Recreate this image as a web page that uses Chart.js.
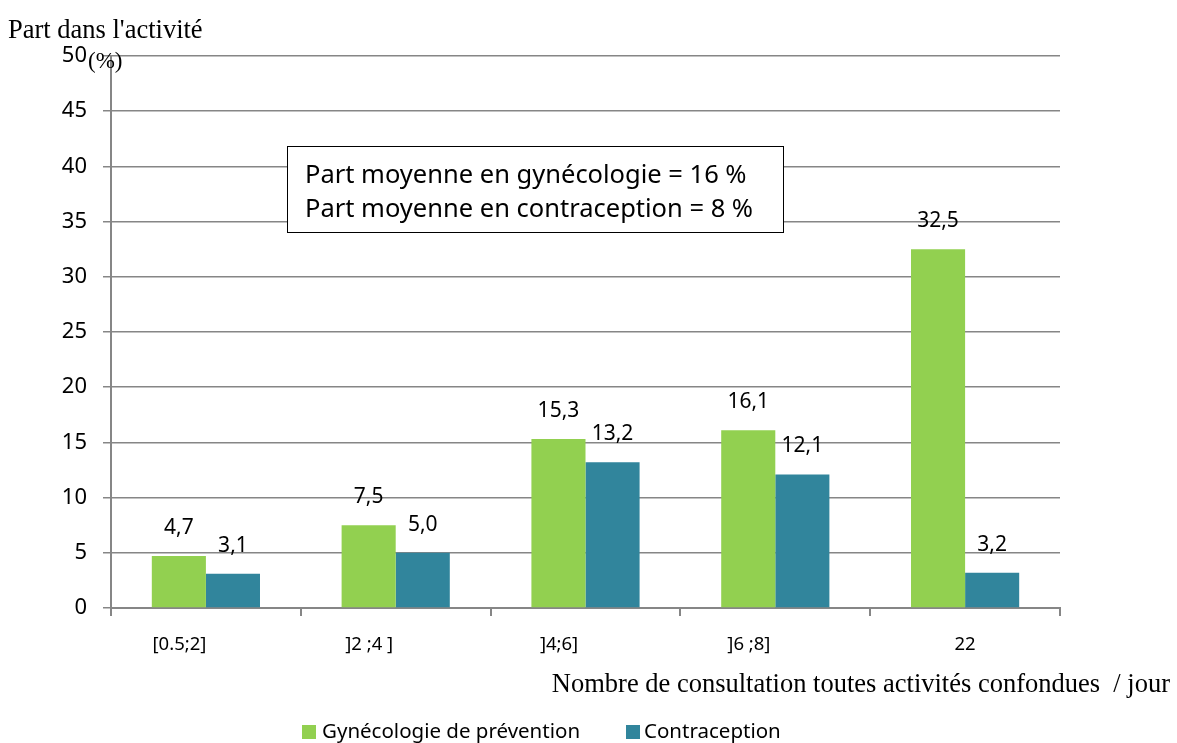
<!DOCTYPE html>
<html>
<head>
<meta charset="utf-8">
<script src="https://cdn.jsdelivr.net/npm/chart.js@4.4.1/dist/chart.umd.min.js"></script>
<style>
  html, body { margin: 0; padding: 0; background: #fff; }
  #wrap { width: 1177px; height: 743px; position: relative; }
</style>
</head>
<body>
<div id="wrap"><canvas id="myChart"></canvas></div>
<script>
// labels keep their trailing spaces, as in the source sheet
const categories = ["[0.5;2]           ", "]2 ;4 ]           ", "]4;6]           ", "]6 ;8]           ", "22"];
const gyneco = [4.7, 7.5, 15.3, 16.1, 32.5];
const contraception = [3.1, 5.0, 13.2, 12.1, 3.2];
const seriesNames = ["Gynécologie de prévention", "Contraception"];
const boxLines = ["Part moyenne en gynécologie = 16 %", "Part moyenne en contraception = 8 %"];

const green = "#92D050";
const teal = "#31859C";
const gridGrey = "#868686";
const sans = "'Noto Sans', 'Open Sans', sans-serif";
const serif = "'Liberation Serif', 'DejaVu Serif', serif";

// extra drawing: titles, value labels, note box, legend
const extras = {
  id: "extras",
  afterDatasetsDraw(chart) {
    const c = chart.ctx;
    c.save();
    c.fillStyle = "#000";

    // value labels
    c.font = "21px " + sans;
    c.textAlign = "center";
    c.textBaseline = "middle";
    chart.data.datasets.forEach((ds, i) => {
      chart.getDatasetMeta(i).data.forEach((bar, j) => {
        const txt = ds.data[j].toFixed(1).replace(".", ",");
        c.fillText(txt, bar.x, bar.y - 28);
      });
    });

    // note box
    c.fillStyle = "#fff";
    c.fillRect(287, 146, 496, 86);
    c.strokeStyle = "#000";
    c.lineWidth = 1;
    c.strokeRect(287.5, 146.5, 496, 86);
    c.fillStyle = "#000";
    c.font = "25.5px " + sans;
    c.textAlign = "left";
    c.textBaseline = "middle";
    c.fillText(boxLines[0], 305, 176);
    c.fillText(boxLines[1], 305, 210);

    // axis titles
    c.font = "26.5px " + serif;
    c.textBaseline = "alphabetic";
    c.fillText("Part dans l'activité", 8, 38);
    c.font = "23px " + serif;
    c.fillText("(%)", 88, 68);
    c.textAlign = "right";
    c.font = "26.5px " + serif;
    c.fillText("Nombre de consultation toutes activités confondues  / jour", 1170, 692);

    // legend
    c.textAlign = "left";
    c.textBaseline = "middle";
    c.font = "20.5px " + sans;
    c.fillStyle = green;
    c.fillRect(302, 725, 14, 14);
    c.fillStyle = "#000";
    c.fillText(seriesNames[0], 322, 732);
    c.fillStyle = teal;
    c.fillRect(626, 725, 14, 14);
    c.fillStyle = "#000";
    c.fillText(seriesNames[1], 644, 732);
    c.restore();
  }
};

const ctx = document.getElementById("myChart");
new Chart(ctx, {
  type: "bar",
  data: {
    labels: categories,
    datasets: [
      { label: seriesNames[0], data: gyneco, backgroundColor: green },
      { label: seriesNames[1], data: contraception, backgroundColor: teal },
    ],
  },
  options: {
    responsive: true,
    maintainAspectRatio: false,
    animation: false,
    categoryPercentage: 0.57,
    barPercentage: 1,
    layout: { padding: { top: 56, right: 117, left: 0, bottom: 0 } },
    plugins: { legend: { display: false }, tooltip: { enabled: false } },
    scales: {
      x: {
        grid: { offset: true, drawOnChartArea: false, color: gridGrey, lineWidth: 2, tickLength: 8 },
        border: { color: gridGrey, width: 2 },
        ticks: { color: "#000", font: { size: 18.5, family: sans }, padding: 18, maxRotation: 0 },
        afterFit(scale) { scale.height = 135; },
      },
      y: {
        min: 0,
        max: 50,
        grid: { color: gridGrey, lineWidth: 1.5, tickLength: 8 },
        border: { color: gridGrey, width: 2 },
        ticks: { stepSize: 5, color: "#000", font: { size: 22, family: sans }, padding: 16 },
        afterFit(scale) { scale.width = 111; },
      },
    },
  },
  plugins: [extras],
});
</script>
</body>
</html>
